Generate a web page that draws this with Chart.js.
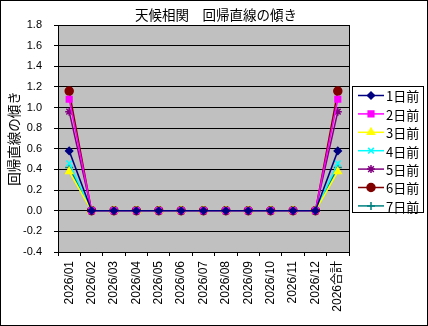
<!DOCTYPE html>
<html>
<head>
<meta charset="utf-8">
<script src="https://cdn.jsdelivr.net/npm/chart.js@4.4.0/dist/chart.umd.min.js"></script>
<style>
  html, body { margin: 0; padding: 0; background: #fff; }
  #wrap { width: 428px; height: 326px; }
</style>
</head>
<body>
<div id="wrap"><canvas id="slopeChart" width="428" height="326"></canvas></div>
<script>
const categories = ['2026/01', '2026/02', '2026/03', '2026/04', '2026/05', '2026/06', '2026/07',
  '2026/08', '2026/09', '2026/10', '2026/11', '2026/12', '2026合計'];
const seriesNames = ['1日前', '2日前', '3日前', '4日前', '5日前', '6日前', '7日前'];
const day1 = [0.58, 0, 0, 0, 0, 0, 0, 0, 0, 0, 0, 0, 0.58];
const day2 = [1.08, 0, 0, 0, 0, 0, 0, 0, 0, 0, 0, 0, 1.08];
const day3 = [0.38, 0, 0, 0, 0, 0, 0, 0, 0, 0, 0, 0, 0.38];
const day4 = [0.46, 0, 0, 0, 0, 0, 0, 0, 0, 0, 0, 0, 0.46];
const day5 = [0.96, 0, 0, 0, 0, 0, 0, 0, 0, 0, 0, 0, 0.96];
const day6 = [1.16, 0, 0, 0, 0, 0, 0, 0, 0, 0, 0, 0, 1.16];
const day7 = [0.42, 0, 0, 0, 0, 0, 0, 0, 0, 0, 0, 0, 0.42];
const yTicks = [-0.4, -0.2, 0.0, 0.2, 0.4, 0.6, 0.8, 1.0, 1.2, 1.4, 1.6, 1.8];

const seriesValues = [day1, day2, day3, day4, day5, day6, day7];
const colors = ['#000080', '#ff00ff', '#ffff00', '#00ffff', '#800080', '#800000', '#008080'];
const markers = ['rectRot', 'rect', 'triangle', 'crossRot', 'star', 'circle', 'cross'];
const radii = [3.5, 4, 4, 4, 4, 4, 4];

const datasets = seriesNames.map((name, i) => ({
  label: name,
  data: seriesValues[i],
  borderColor: colors[i],
  backgroundColor: colors[i],
  borderWidth: 1.5,
  pointStyle: markers[i],
  pointRadius: radii[i],
  pointBorderColor: colors[i],
  pointBackgroundColor: colors[i],
  pointBorderWidth: 1.5,
  tension: 0,
}));

// gray plot area, frame, title and the boxed legend on the right
const excelLook = {
  id: 'excelLook',
  beforeDraw(chart) {
    const { ctx, chartArea: a } = chart;
    ctx.save();
    ctx.fillStyle = '#c0c0c0';
    ctx.fillRect(a.left, a.top, a.right - a.left, a.bottom - a.top);
    ctx.restore();
  },
  afterDraw(chart) {
    const { ctx, chartArea: a } = chart;
    ctx.save();
    ctx.strokeStyle = '#000';
    ctx.lineWidth = 1;
    ctx.strokeRect(Math.round(a.left) + 0.5, Math.round(a.top) + 0.5,
      Math.round(a.right - a.left), Math.round(a.bottom - a.top));
    ctx.strokeRect(0.5, 0.5, 427, 325);

    ctx.fillStyle = '#000';
    ctx.font = '13.5px "Noto Sans CJK JP"';
    ctx.textAlign = 'center';
    ctx.textBaseline = 'middle';
    ctx.fillText('天候相関　回帰直線の傾き', 216, 15);

    // legend
    ctx.strokeRect(352.5, 86.5, 71, 126);
    ctx.textAlign = 'left';
    ctx.font = '13px "Noto Sans CJK JP"';
    chart.data.datasets.forEach((ds, i) => {
      const y = 95.5 + i * 18.4;
      ctx.strokeStyle = ds.borderColor;
      ctx.fillStyle = ds.backgroundColor;
      ctx.lineWidth = 1.5;
      ctx.beginPath();
      ctx.moveTo(358, y);
      ctx.lineTo(384, y);
      ctx.stroke();
      Chart.helpers.drawPoint(ctx, {
        pointStyle: ds.pointStyle, radius: ds.pointRadius, rotation: 0,
        borderWidth: 1.5,
      }, 371, y);
      ctx.fillStyle = '#000';
      ctx.fillText(ds.label, 386, y + 1);
    });
    ctx.restore();
  },
};

new Chart(document.getElementById('slopeChart'), {
  type: 'line',
  data: { labels: categories, datasets },
  options: {
    responsive: false,
    animation: false,
    layout: { padding: { top: 25, right: 79, bottom: 0, left: 0 } },
    plugins: {
      legend: { display: false },
      title: { display: false },
      tooltip: { enabled: false },
    },
    scales: {
      x: {
        offset: true,
        grid: {
          display: true,
          drawOnChartArea: false,
          drawTicks: true,
          tickLength: 4,
          color: '#000',
          offset: true,
        },
        border: { color: '#000' },
        ticks: {
          color: '#000',
          font: { family: '"Liberation Sans", "Noto Sans CJK JP"', size: 12 },
          maxRotation: 90,
          minRotation: 90,
          padding: 5,
          autoSkip: false,
        },
        afterFit(scale) { scale.height = 74; },
      },
      y: {
        min: yTicks[0],
        max: yTicks[yTicks.length - 1],
        afterBuildTicks(scale) { scale.ticks = yTicks.map(v => ({ value: v })); },
        grid: {
          color: '#000',
          drawTicks: true,
          tickLength: 4,
        },
        border: { color: '#000' },
        ticks: {
          color: '#000',
          font: { family: '"Liberation Sans"', size: 11 },
          padding: 12,
          callback: v => Number(v).toFixed(1),
        },
        title: {
          display: true,
          text: '回帰直線の傾き',
          color: '#000',
          font: { family: '"Noto Sans CJK JP"', size: 13.5 },
          padding: { top: 6, bottom: 0 },
        },
        afterFit(scale) { scale.width = 58; },
      },
    },
  },
  plugins: [excelLook],
});
</script>
</body>
</html>
